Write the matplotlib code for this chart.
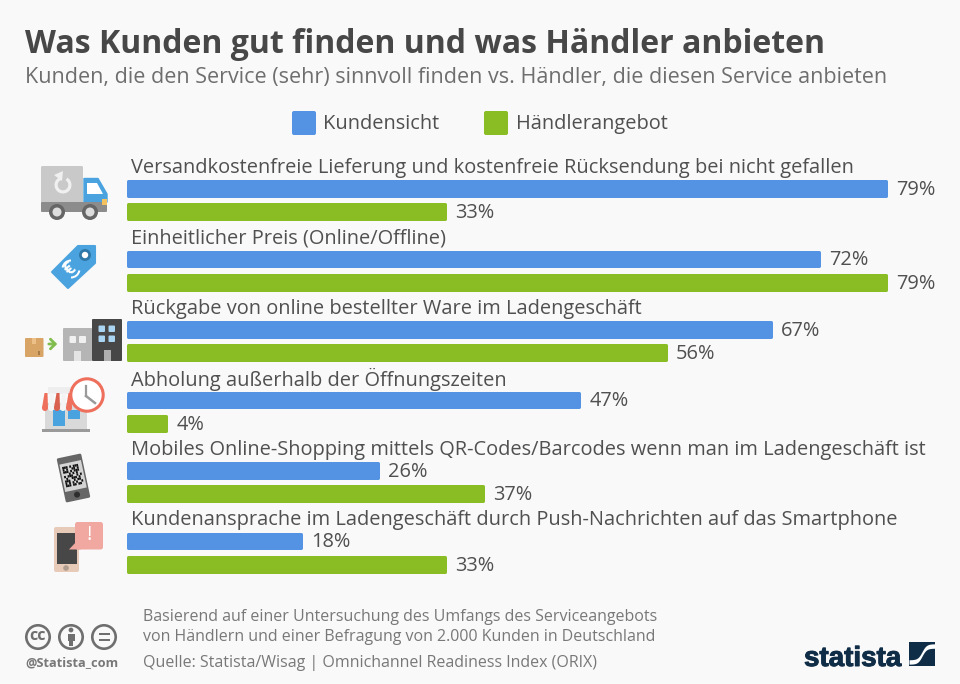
"""Was Kunden gut finden und was Haendler anbieten - Statista bar chart."""

import matplotlib
matplotlib.use("Agg")
import matplotlib.pyplot as plt
import matplotlib.patheffects as pe
import numpy as np
from matplotlib.patches import Circle, FancyBboxPatch, Polygon, Rectangle, Wedge
from matplotlib.transforms import Affine2D

plt.rcParams["font.family"] = ["Open Sans", "DejaVu Sans"]

CATEGORIES = [
    "Versandkostenfreie Lieferung und kostenfreie Rücksendung bei nicht gefallen",
    "Einheitlicher Preis (Online/Offline)",
    "Rückgabe von online bestellter Ware im Ladengeschäft",
    "Abholung außerhalb der Öffnungszeiten",
    "Mobiles Online-Shopping mittels QR-Codes/Barcodes wenn man im Ladengeschäft ist",
    "Kundenansprache im Ladengeschäft durch Push-Nachrichten auf das Smartphone",
]
KUNDEN = [79, 72, 67, 47, 26, 18]
HAENDLER = [33, 79, 56, 4, 37, 33]
SERIES_NAMES = ["Kundensicht", "Händlerangebot"]

BG = "#f9f9f9"
BLUE = "#5492e3"
GREEN = "#89bd23"
TITLE_COL = "#474747"
SUB_COL = "#6e6e6e"
TEXT_COL = "#505050"
FOOT_COL = "#787878"
NAVY = "#0f2d47"

W, H = 960, 684
PX = 72 / 100  # points per pixel


def rrect(ov, x0, y0, x1, y1, color, r=1.5, z=3):
    ov.add_patch(FancyBboxPatch((x0 + r, y0 + r), x1 - x0 - 2 * r, y1 - y0 - 2 * r,
                                boxstyle=f"round,pad={r}", fc=color, ec="none", zorder=z))


def draw_truck(ov):
    rrect(ov, 41, 166, 83, 203, "#c9c9c9")
    ov.add_patch(Wedge((63, 185), 8.5, 300, 250, width=3.2, fc="#f0f0f0", ec="none", zorder=4))
    ov.add_patch(Polygon([(54, 175), (63, 171), (62, 181)], fc="#f0f0f0", ec="none", zorder=4))
    ov.add_patch(Polygon([(84, 178.5), (98, 178.5), (107, 194), (107, 202), (84, 202)],
                         fc="#4aa3df", ec="#4aa3df", lw=1, joinstyle="round", zorder=3))
    ov.add_patch(Polygon([(87, 183), (97, 183), (103, 194), (87, 194)], fc="white", ec="none", zorder=4))
    ov.add_patch(Rectangle((102, 199), 5, 6, fc="#f5c260", ec="none", zorder=5))
    rrect(ov, 41, 202, 107, 212, "#8c8c8c", r=1)
    for cx in (57, 90):
        ov.add_patch(Circle((cx, 212), 8, fc="#666666", ec="none", zorder=6))
        ov.add_patch(Circle((cx, 212), 4.5, fc="#dddddd", ec="none", zorder=7))


def draw_tag(ov):
    ov.add_patch(Polygon([(52, 272), (78, 246), (95, 246), (95, 263), (68, 288)],
                         closed=True, fc="#4aa3df", ec="#4aa3df", lw=1.5, joinstyle="round", zorder=3))
    ov.add_patch(Circle((85, 255), 6, fc="#2f78a8", ec="none", zorder=4))
    ov.add_patch(Circle((85, 255), 3.2, fc="white", ec="none", zorder=5))
    ov.add_patch(Wedge((71, 269), 9.5, 190, 270, width=2, fc="white", ec="none", zorder=4))
    ov.add_patch(Wedge((71, 269), 9.5, 10, 90, width=2, fc="white", ec="none", zorder=4))
    ov.text(70, 269.5, "€", color="white", fontsize=12, fontweight="bold", ha="center",
            va="center", rotation=40, zorder=5)


def draw_buildings(ov):
    rrect(ov, 25, 338, 43.5, 357, "#d9a566", r=1)
    ov.add_patch(Rectangle((32, 338), 4, 6, fc="#edc088", ec="none", zorder=4))
    ov.add_patch(Rectangle((37.5, 351), 2, 4, fc="#a87c48", ec="none", zorder=4))
    ov.annotate("", xy=(60, 344), xytext=(46, 344),
                arrowprops=dict(arrowstyle="->,head_width=0.35,head_length=0.35", color="#80bd4e", lw=2))
    rrect(ov, 63, 328, 92, 361, "#b5b5b5", r=1)
    rrect(ov, 69.5, 336, 76, 343, "#f0f0f0", r=1, z=4)
    rrect(ov, 79, 336, 86, 343, "#f0f0f0", r=1, z=4)
    ov.add_patch(Rectangle((74, 351), 7, 10, fc="#e4e4e4", ec="none", zorder=4))
    rrect(ov, 92, 319, 122, 361, "#474747", r=1)
    for xw in (98.5, 108.5):
        for yw in (325.5, 335.5):
            rrect(ov, xw, yw, xw + 6.5, yw + 6.5, "#a9d4f2", r=1, z=4)
    ov.add_patch(Rectangle((103.5, 350), 7, 11, fc="#aeaeae", ec="none", zorder=4))


def draw_shop(ov):
    ov.add_patch(Rectangle((45, 403), 42, 27, fc="#d9d9d9", ec="none", zorder=3))
    ov.add_patch(Rectangle((42, 429), 48, 3, fc="#9a9a9a", ec="none", zorder=4))
    ov.add_patch(Rectangle((48, 387), 26, 7, fc="#eeeeee", ec="none", zorder=4))
    ov.add_patch(Rectangle((53, 410), 12, 16, fc="#4aa3df", ec="none", zorder=4))
    ov.add_patch(Rectangle((68, 410), 12, 8.5, fc="#4aa3df", ec="none", zorder=4))
    cols = ["#ee6f5c", "#f4f4f4", "#d9604e", "#f4f4f4", "#ee6f5c"]
    for x0, col in zip(np.arange(42, 72, 6), cols):
        ov.add_patch(Polygon([(x0 + 2.5, 393), (x0 + 5.5, 393), (x0 + 6, 408), (x0, 408)], fc=col, ec="none", zorder=5))
        ov.add_patch(Circle((x0 + 3, 408), 3, fc=col, ec="none", zorder=5))
    ov.add_patch(Circle((87, 395), 16.2, fc="white", ec="#ee6f5c", lw=2.2, zorder=6))
    ov.plot([86, 86], [386, 396], color="#9a9a9a", lw=1.6, zorder=7)
    ov.plot([86, 95], [396, 403], color="#9a9a9a", lw=1.8, zorder=7)


QR = ["1110101110",
      "1010011010",
      "1110101110",
      "0001010100",
      "1011100101",
      "0100111010",
      "1110010110",
      "1010101001",
      "1110110110"]


def draw_qr_phone(ov):
    rot = Affine2D().rotate_deg_around(73.5, 478, -12) + ov.transData
    ov.add_patch(FancyBboxPatch((62.5, 457), 22, 42, boxstyle="round,pad=1.5", fc="#666666",
                                ec="none", zorder=3, transform=rot))
    ov.add_patch(Rectangle((62.5, 462), 22, 28, fc="#d4d4d4", ec="none", zorder=4, transform=rot))
    ov.add_patch(Circle((73.5, 495), 3, fc="#2e2e2e", ec="none", zorder=4, transform=rot))
    for r, row in enumerate(QR):
        for c, on in enumerate(row):
            if on == "1":
                ov.add_patch(Rectangle((64.5 + c * 1.8, 465 + r * 2.3), 1.8, 2.3, fc="#111111",
                                       ec="none", zorder=5, transform=rot))


def draw_push_phone(ov):
    rrect(ov, 54, 527, 79, 572, "#e7cbb8", r=2)
    ov.add_patch(Rectangle((57, 533), 20, 31, fc="#474747", ec="none", zorder=4))
    ov.add_patch(Circle((66, 568), 2.8, fc="#b09c8e", ec="none", zorder=4))
    rrect(ov, 75, 522, 103, 549.5, "#f0a8a0", r=2.5, z=5)
    ov.add_patch(Polygon([(69, 549.5), (77, 541), (81, 549.5)], fc="#f0a8a0", ec="none", zorder=5))
    ov.text(89, 535, "!", color="white", fontsize=17 * PX * 1.2, ha="center", va="center", zorder=6)


def draw_cc_icons(ov):
    col = "#6f6f6f"
    for cx in (38, 71, 104):
        ov.add_patch(Circle((cx, 637), 11.7, fc="none", ec=col, lw=1.9, zorder=3))
    ov.text(38, 636, "cc", color=col, fontsize=11.5, fontweight="bold", ha="center", va="center", zorder=4)
    ov.add_patch(Circle((71, 630), 2.4, fc=col, ec="none", zorder=4))
    ov.add_patch(Rectangle((67.5, 633.5), 7, 7.5, fc=col, ec="none", zorder=4))
    ov.add_patch(Rectangle((69, 640), 4, 6, fc=col, ec="none", zorder=4))
    ov.add_patch(Rectangle((98.5, 632.5), 11, 2.8, fc=col, ec="none", zorder=4))
    ov.add_patch(Rectangle((98.5, 638.5), 11, 2.8, fc=col, ec="none", zorder=4))


def draw_logo(ov):
    txt = ov.text(804, 666, "statista", color=NAVY, fontsize=20, fontweight="bold", ha="left",
                  va="baseline", family=["Liberation Sans", "Open Sans"], zorder=3)
    txt.set_path_effects([pe.withStroke(linewidth=0.7, foreground=NAVY)])
    ov.add_patch(Rectangle((909, 642), 26, 24, fc=NAVY, ec="none", zorder=3))
    t = np.linspace(0, 1, 40)
    xs = 909 + 26 * t
    mid = 654 - 8 * np.tanh((t - 0.5) * 6)
    ov.fill_between(xs, mid - 2.2, mid + 2.2, color="white", lw=0, zorder=4)


def main():
    fig = plt.figure(figsize=(W / 100, H / 100), dpi=100, facecolor=BG)

    # bar axes placed in pixels: 9.6 px per percent, 70.5 px per group
    px_per_pct = 9.6
    left, top, pitch = 128.0, 164.75, 70.5
    width = 815.0
    n = len(CATEGORIES)
    ax = fig.add_axes([left / W, 1 - (top + n * pitch) / H, width / W, n * pitch / H])
    ax.set_xlim(0, width / px_per_pct)
    ax.set_ylim(n - 0.5, -0.5)
    ax.axis("off")

    y = np.arange(n)
    off = 11.6 / pitch
    bar_h = 14.8 / pitch
    for vals, col, sign in ((KUNDEN, BLUE, -1), (HAENDLER, GREEN, 1)):
        ax.barh(y + sign * off, vals, height=bar_h, color=col, edgecolor=col,
                linewidth=3 * PX, joinstyle="round", clip_on=False, zorder=3)
        for yi, v in zip(y, vals):
            ax.annotate(f"{v}%", (v, yi + sign * off), xytext=(10 * PX, -1.5 * PX),
                        textcoords="offset points", fontsize=20 * PX, color=TEXT_COL, va="center")
    for yi, cat in zip(y, CATEGORIES):
        ax.annotate(cat, (0, yi - off), xytext=(3 * PX, 20.5 * PX), textcoords="offset points",
                    fontsize=20 * PX, color=TEXT_COL, va="center")

    # overlay in pixel coordinates for header, legend, icons and footer
    ov = fig.add_axes([0, 0, 1, 1], zorder=5)
    ov.set_xlim(0, W)
    ov.set_ylim(H, 0)
    ov.axis("off")
    ov.patch.set_alpha(0)

    ov.text(25, 53, "Was Kunden gut finden und was Händler anbieten", fontsize=23.07,
            fontweight="bold", color=TITLE_COL, va="baseline")
    ov.text(25, 78, "Kunden, die den Service (sehr) sinnvoll finden vs. Händler, die diesen Service anbieten",
            fontsize=15.47, color=SUB_COL, va="center")

    rrect(ov, 292, 111, 316, 135, BLUE, r=2)
    ov.text(323, 124, SERIES_NAMES[0], fontsize=20 * PX, color=TEXT_COL, va="center")
    rrect(ov, 484, 111, 508, 135, GREEN, r=2)
    ov.text(516, 124, SERIES_NAMES[1], fontsize=20 * PX, color=TEXT_COL, va="center")

    draw_truck(ov)
    draw_tag(ov)
    draw_buildings(ov)
    draw_shop(ov)
    draw_qr_phone(ov)
    draw_push_phone(ov)

    draw_cc_icons(ov)
    ov.text(25, 662.5, "@Statista_com", fontsize=9.2, fontweight="bold", color=FOOT_COL, va="center")
    ov.text(143, 617, "Basierend auf einer Untersuchung des Umfangs des Serviceangebots",
            fontsize=11.55, color=FOOT_COL, va="center")
    ov.text(143, 637, "von Händlern und einer Befragung von 2.000 Kunden in Deutschland",
            fontsize=11.55, color=FOOT_COL, va="center")
    ov.text(143, 663, "Quelle: Statista/Wisag | Omnichannel Readiness Index (ORIX)",
            fontsize=11.55, color=FOOT_COL, va="center")
    draw_logo(ov)

    fig.savefig("out.png", dpi=100, facecolor=BG)


if __name__ == "__main__":
    main()
